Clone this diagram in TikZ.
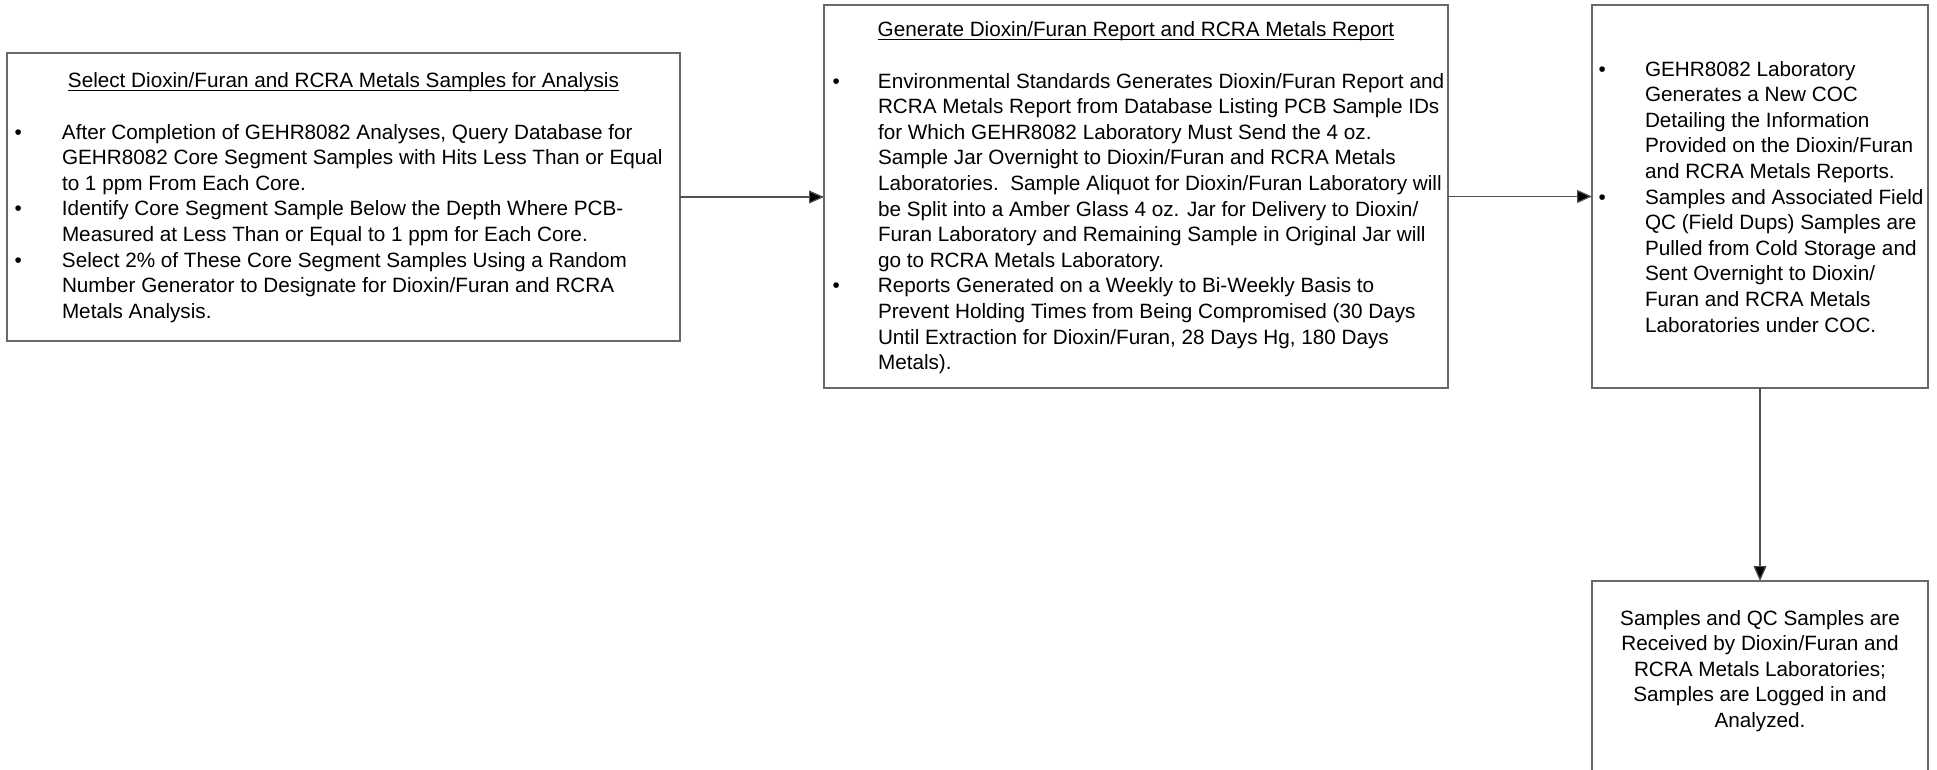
\documentclass[tikz,border=0pt]{standalone}
\usepackage{fontspec}
\setmainfont{Liberation Sans}
\usetikzlibrary{arrows.meta}
\definecolor{bordergray}{RGB}{105,105,105}
\definecolor{linegray}{RGB}{80,80,80}
\newcommand\myul[1]{\setbox0=\hbox{#1}\rlap{\rule[-3.2pt]{\wd0}{0.9pt}}\box0}
\newcommand\bodyfont{\fontsize{20.7pt}{25.6pt}\selectfont}
\tikzset{
  box/.style={draw=bordergray, line width=1.5pt, inner sep=0pt, outer sep=0pt, anchor=north west},
  txt/.style={inner sep=0pt, outer sep=0pt, font=\bodyfont},
  conn/.style={draw=linegray, line width=1.2pt, -{Triangle[length=15pt,width=13pt,fill=black]}}
}
\begin{document}
\begin{tikzpicture}[x=1pt,y=-1pt]
\useasboundingbox (0,0) rectangle (1937,770);
\clip (0,0) rectangle (1937,770);
% boxes
\node[box, minimum width=673pt, minimum height=288pt] (b1) at (7,53) {};
\node[box, minimum width=624pt, minimum height=383pt] (b2) at (824,5) {};
\node[box, minimum width=336pt, minimum height=383pt] (b3) at (1592,5) {};
\node[box, minimum width=336pt, minimum height=240pt] (b4) at (1592,581) {};
% titles
\node[txt, anchor=base] (t1) at (343.5,88) {\myul{Select Dioxin/Furan and RCRA Metals Samples for Analysis}};
\node[txt, anchor=base] (t2) at (1136,37) {\myul{Generate Dioxin/Furan Report and RCRA Metals Report}};
% box 1 text
\node[txt, anchor=north west] (l1) at (14.5,121.1) {\bodyfont\begin{tabular}{@{}p{47.5pt}@{}l@{}}
\textbullet & After Completion of GEHR8082 Analyses, Query Database for\\
 & GEHR8082 Core Segment Samples with Hits Less Than or Equal\\
 & to 1 ppm From Each Core.\\
\textbullet & Identify Core Segment Sample Below the Depth Where PCB-\\
 & Measured at Less Than or Equal to 1 ppm for Each Core.\\
\textbullet & Select 2\% of These Core Segment Samples Using a Random\\
 & Number Generator to Designate for Dioxin/Furan and RCRA\\
 & Metals Analysis.
\end{tabular}};
% box 2 text
\node[txt, anchor=north west] (l2) at (832.5,70.1) {\bodyfont\begin{tabular}{@{}p{45.5pt}@{}l@{}}
\textbullet & Environmental Standards Generates Dioxin/Furan Report and\\
 & RCRA Metals Report from Database Listing PCB Sample IDs\\
 & for Which GEHR8082 Laboratory Must Send the 4 oz.\\
 & Sample Jar Overnight to Dioxin/Furan and RCRA Metals\\
 & Laboratories.\ \ Sample Aliquot for Dioxin/Furan Laboratory will\\
 & be Split into a Amber Glass 4 oz. Jar for Delivery to Dioxin/\\
 & Furan Laboratory and Remaining Sample in Original Jar will\\
 & go to RCRA Metals Laboratory.\\
\textbullet & Reports Generated on a Weekly to Bi-Weekly Basis to\\
 & Prevent Holding Times from Being Compromised (30 Days\\
 & Until Extraction for Dioxin/Furan, 28 Days Hg, 180 Days\\
 & Metals).
\end{tabular}};
% box 3 text
\node[txt, anchor=north west] (l3) at (1598.5,58.1) {\bodyfont\begin{tabular}{@{}p{46.5pt}@{}l@{}}
\textbullet & GEHR8082 Laboratory\\
 & Generates a New COC\\
 & Detailing the Information\\
 & Provided on the Dioxin/Furan\\
 & and RCRA Metals Reports.\\
\textbullet & Samples and Associated Field\\
 & QC (Field Dups) Samples are\\
 & Pulled from Cold Storage and\\
 & Sent Overnight to Dioxin/\\
 & Furan and RCRA Metals\\
 & Laboratories under COC.
\end{tabular}};
% box 4 text
\node[txt, anchor=north] (l4) at (1760,607.1) {\bodyfont\begin{tabular}{@{}c@{}}
Samples and QC Samples are\\
Received by Dioxin/Furan and\\
RCRA Metals Laboratories;\\
Samples are Logged in and\\
Analyzed.
\end{tabular}};
% connectors
\draw[conn] (b1.east) -- (b1.east -| b2.west);
\draw[conn] (b2.east) -- (b2.east -| b3.west);
\draw[conn] (b3.south) -- (b4.north);
\end{tikzpicture}
\end{document}
